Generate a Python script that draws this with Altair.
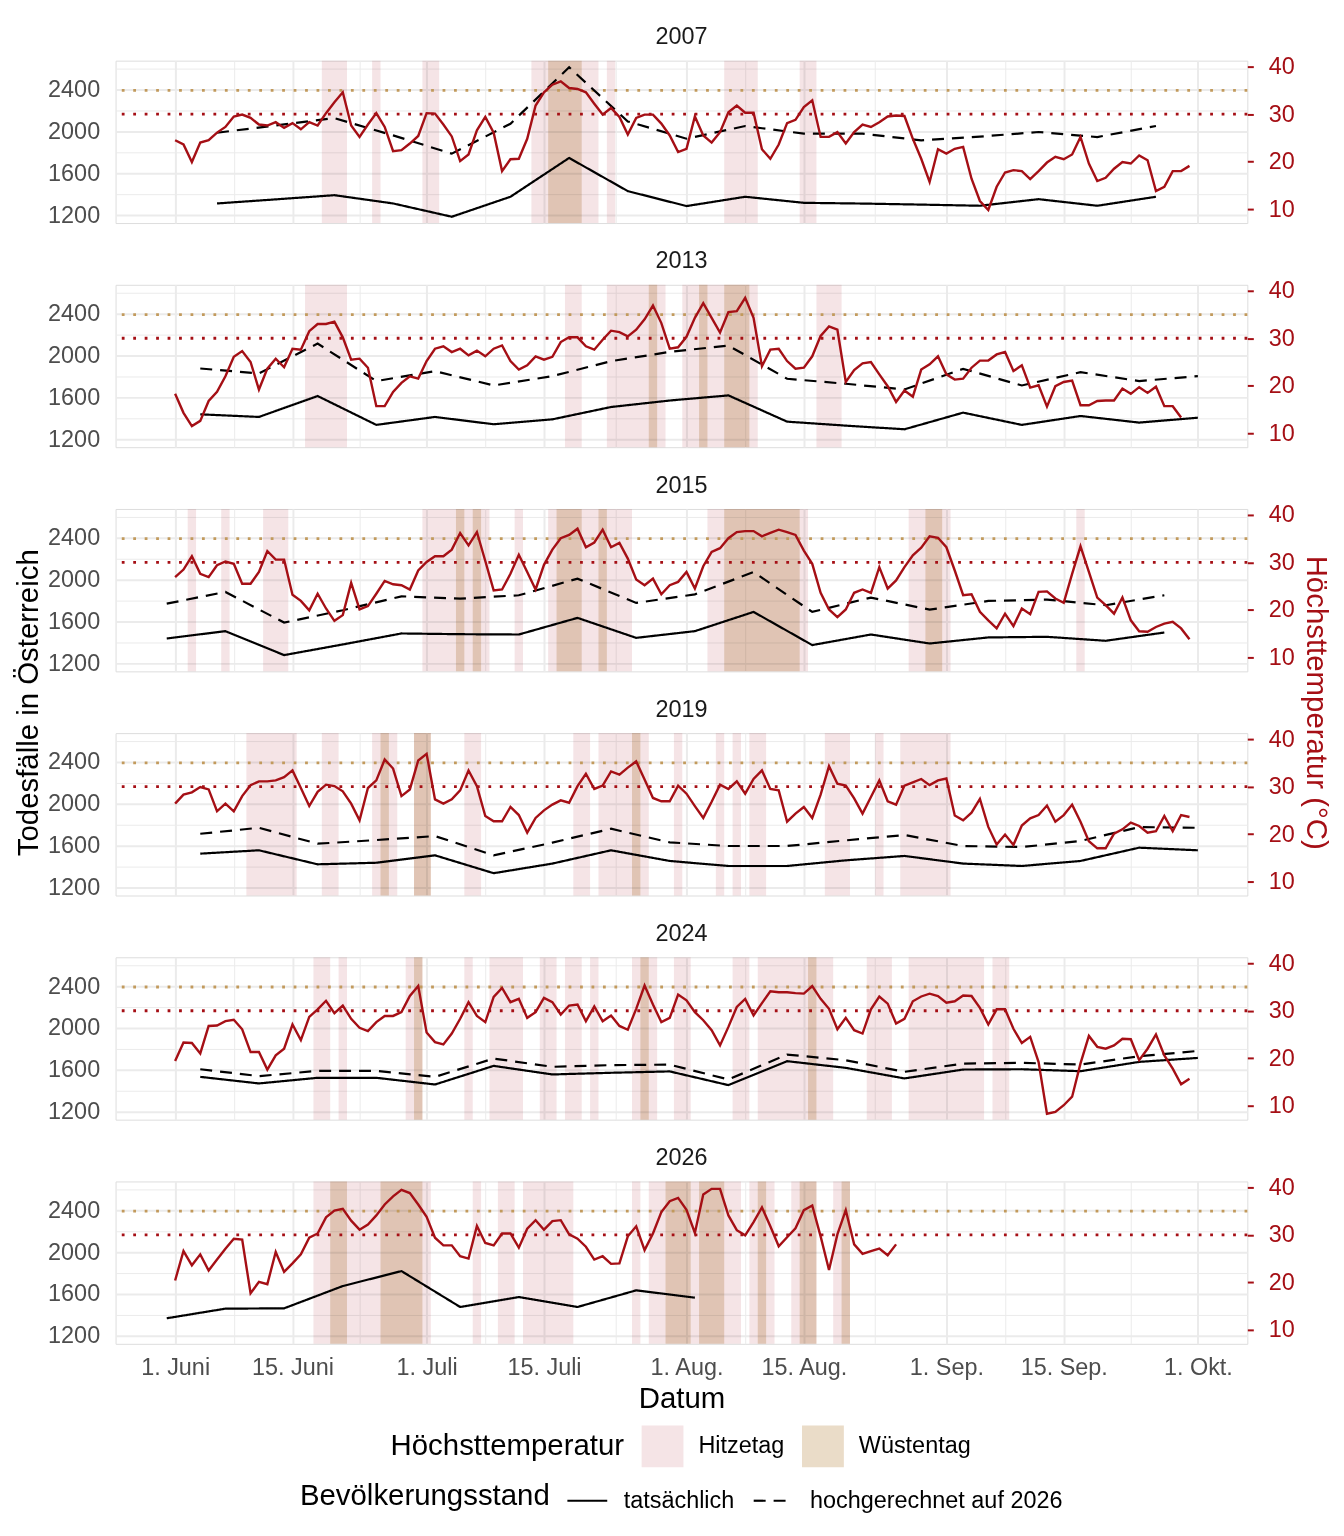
import json
import altair as alt
import pandas as pd

# ---------------- data ----------------
years = [2007, 2013, 2015, 2019, 2024, 2026]

# daily maximum temperature, day 0 = 1 June
temp_2007 = [24.5, 23.6, 19.9, 24.0, 24.5, 26.1, 27.3, 29.5, 29.9, 29.2,
             27.8, 27.6, 28.3, 27.1, 28.1, 26.8, 28.3, 27.6, 30.2, 32.5,
             34.6, 27.6, 25.2, 27.8, 30.2, 27.3, 22.2, 22.4, 23.8, 25.4,
             30.2, 30.1, 27.8, 25.3, 20.1, 21.5, 26.6, 29.4, 26.1, 18.0,
             20.5, 20.6, 24.8, 31.8, 34.6, 36.2, 36.9, 35.5, 35.3, 34.6,
             32.2, 29.9, 31.3, 29.4, 25.7, 29.2, 29.9, 29.9, 28.0, 25.5,
             22.0, 22.7, 29.5, 25.5, 24.0, 26.2, 30.4, 31.8, 30.3, 30.3,
             22.6, 20.6, 23.6, 28.1, 28.8, 31.5, 32.9, 25.2, 25.2, 26.2,
             23.8, 26.2, 27.8, 27.3, 28.3, 29.5, 29.7, 29.6, 24.8, 20.6,
             15.7, 22.6, 21.7, 22.7, 23.1, 16.4, 11.7, 9.8, 14.7, 17.7,
             18.2, 18.0, 16.3, 18.0, 19.8, 21.0, 20.5, 21.5, 25.2, 19.6,
             15.9, 16.6, 18.5, 19.9, 19.6, 21.3, 20.3, 13.8, 14.7, 18.0,
             18.0, 19.1]
temp_2013 = [18.3, 14.3, 11.5, 12.6, 16.8, 18.7, 22.0, 26.1, 27.3, 25.0,
             19.2, 23.6, 25.7, 23.9, 27.8, 27.6, 31.5, 33.0, 33.0, 33.5,
             30.2, 25.5, 25.7, 23.8, 15.7, 15.7, 18.7, 20.6, 22.0, 21.5,
             25.2, 27.8, 28.3, 27.1, 27.8, 26.4, 27.4, 26.2, 27.8, 28.5,
             25.2, 23.4, 24.3, 26.2, 25.5, 26.1, 29.2, 30.2, 30.2, 28.3,
             27.6, 29.7, 31.6, 31.3, 30.4, 31.8, 34.0, 36.9, 33.2, 27.8,
             28.1, 30.3, 34.3, 37.4, 34.3, 31.2, 35.5, 35.7, 38.5, 34.3,
             24.1, 27.6, 27.8, 25.2, 23.6, 23.8, 26.2, 30.5, 32.5, 31.8,
             20.8, 23.3, 24.7, 25.0, 22.4, 19.9, 16.6, 19.0, 17.7, 23.4,
             24.5, 26.2, 22.4, 21.3, 21.5, 23.8, 25.3, 25.3, 26.6, 27.1,
             23.1, 24.3, 19.6, 20.1, 15.6, 19.9, 20.8, 21.1, 15.9, 15.9,
             16.8, 16.9, 16.9, 19.4, 18.3, 19.7, 18.5, 19.8, 15.7, 15.7,
             13.3]
temp_2015 = [26.9, 28.5, 31.3, 27.6, 26.9, 29.4, 30.2, 29.7, 25.5, 25.5,
             28.0, 32.4, 30.6, 30.6, 23.2, 21.9, 19.9, 23.4, 20.3, 17.7,
             18.9, 25.7, 20.1, 20.8, 23.4, 26.1, 25.4, 25.2, 24.3, 28.3,
             30.1, 31.3, 31.3, 32.7, 36.2, 33.6, 36.4, 30.3, 24.1, 24.3,
             27.6, 31.6, 28.0, 24.3, 29.5, 32.7, 35.1, 35.8, 37.1, 33.2,
             34.2, 36.9, 33.2, 34.1, 30.8, 26.4, 25.2, 26.6, 23.3, 25.2,
             25.9, 28.0, 24.5, 29.2, 32.2, 33.0, 35.1, 36.4, 36.6, 36.6,
             35.5, 36.2, 36.9, 36.4, 35.8, 32.5, 29.7, 23.6, 20.1, 18.5,
             20.1, 23.6, 24.3, 23.6, 29.0, 24.5, 26.2, 29.0, 31.5, 33.1,
             35.5, 35.2, 33.2, 28.3, 23.1, 23.3, 19.6, 17.8, 16.1, 19.2,
             16.6, 20.3, 19.1, 23.8, 23.9, 22.4, 21.5, 27.6, 33.4, 28.0,
             22.6, 21.0, 19.2, 22.6, 17.8, 15.5, 15.4, 16.4, 17.1, 17.5,
             16.1, 13.8]
temp_2019 = [26.4, 28.3, 28.8, 29.9, 29.4, 24.8, 26.4, 24.8, 28.0, 30.3,
             31.1, 31.1, 31.3, 32.0, 33.4, 29.7, 25.9, 28.9, 30.4, 30.1,
             29.0, 26.4, 22.9, 29.7, 31.3, 35.7, 33.8, 28.0, 29.4, 35.5,
             36.9, 27.3, 26.4, 27.3, 29.2, 33.4, 30.1, 23.8, 22.7, 22.7,
             25.7, 24.0, 20.3, 23.4, 25.0, 26.2, 27.1, 26.6, 30.1, 32.7,
             29.5, 30.2, 33.2, 32.5, 34.0, 35.3, 31.5, 27.6, 26.9, 26.9,
             30.2, 28.5, 25.9, 23.4, 26.8, 30.4, 29.5, 31.1, 28.5, 31.6,
             33.4, 29.5, 29.2, 22.6, 24.3, 25.7, 23.4, 28.3, 34.3, 30.6,
             30.2, 27.5, 24.3, 27.8, 31.3, 26.9, 26.2, 30.2, 30.9, 31.6,
             30.3, 31.3, 31.7, 23.9, 22.9, 24.5, 27.4, 21.5, 17.8, 19.9,
             17.7, 21.8, 23.3, 24.0, 26.0, 22.6, 24.0, 26.2, 22.6, 18.5,
             17.0, 17.0, 20.1, 21.0, 22.4, 21.7, 20.3, 20.6, 23.8, 20.6,
             24.0, 23.6]
temp_2024 = [19.4, 23.3, 23.2, 21.0, 26.8, 26.9, 27.8, 28.1, 26.1, 21.3,
             21.3, 17.6, 20.6, 22.0, 27.1, 23.8, 28.7, 30.3, 32.1, 29.5,
             31.1, 28.3, 26.4, 25.7, 27.6, 28.9, 28.9, 29.7, 33.1, 35.2,
             25.4, 23.4, 22.9, 25.2, 28.3, 31.8, 28.9, 27.6, 32.9, 34.8,
             31.8, 32.5, 28.5, 29.7, 32.7, 31.8, 29.2, 31.1, 31.3, 27.8,
             30.9, 27.8, 29.0, 26.8, 26.0, 30.4, 35.3, 31.3, 27.6, 28.5,
             33.4, 32.2, 29.7, 28.0, 25.9, 22.7, 26.6, 30.8, 32.5, 29.0,
             31.6, 34.1, 33.9, 33.9, 33.7, 33.6, 35.2, 32.5, 30.4, 26.1,
             28.5, 25.9, 25.2, 30.3, 33.0, 31.5, 27.3, 28.3, 32.0, 33.0,
             33.6, 33.1, 31.7, 32.0, 33.2, 33.1, 30.6, 27.1, 30.3, 30.3,
             26.2, 23.2, 24.5, 19.2, 8.3, 8.7, 10.1, 11.9, 18.9, 24.7,
             22.4, 22.0, 22.7, 24.1, 24.0, 19.6, 22.0, 25.0, 20.6, 17.8,
             14.5, 15.7]
temp_2026 = [20.4, 26.6, 23.6, 25.9, 22.5, 24.8, 27.1, 29.2, 29.0, 17.7,
             20.1, 19.6, 26.4, 22.2, 24.0, 25.9, 29.4, 30.3, 33.7, 35.1,
             35.5, 33.0, 31.1, 32.2, 34.1, 36.4, 38.1, 39.5, 38.8, 36.4,
             33.8, 29.4, 27.8, 27.8, 25.5, 25.0, 31.9, 28.3, 27.8, 30.3,
             30.3, 27.3, 31.3, 33.1, 31.1, 32.9, 33.1, 30.1, 29.2, 27.5,
             24.8, 25.5, 23.9, 24.0, 29.7, 31.8, 26.8, 30.3, 34.8, 37.1,
             37.8, 35.3, 30.4, 38.5, 39.7, 39.7, 34.1, 31.0, 29.9, 32.7,
             35.8, 31.8, 27.6, 29.5, 31.4, 35.2, 36.2, 29.7, 22.6, 30.1,
             35.2, 28.0, 26.0, 26.6, 27.1, 25.7, 28.0]

# weekly deaths: first day of the weekly series (offset from 1 June), then one value per week
week_start_2007 = 5
actual_2007 = [1311, 1350, 1390, 1311, 1184, 1375, 1746, 1429, 1286, 1375, 1317, 1310, 1300, 1289, 1352, 1289, 1375]
projected_2007 = [1987, 2057, 2127, 1962, 1787, 2073, 2613, 2095, 1930, 2051, 1978, 1978, 1914, 1950, 1994, 1946, 2051]
week_start_2013 = 3
actual_2013 = [1438, 1413, 1613, 1337, 1413, 1343, 1390, 1508, 1570, 1619, 1368, 1330, 1295, 1454, 1337, 1422, 1359, 1406]
projected_2013 = [1876, 1829, 2114, 1756, 1851, 1714, 1803, 1946, 2035, 2095, 1778, 1730, 1676, 1873, 1714, 1841, 1756, 1803]
week_start_2015 = -1
actual_2015 = [1438, 1508, 1279, 1381, 1486, 1479, 1476, 1635, 1444, 1508, 1692, 1375, 1476, 1390, 1448, 1454, 1416, 1495]
projected_2015 = [1771, 1883, 1590, 1708, 1841, 1819, 1851, 2010, 1778, 1860, 2073, 1692, 1829, 1714, 1797, 1810, 1756, 1851]
week_start_2019 = 3
actual_2019 = [1524, 1556, 1422, 1437, 1508, 1337, 1429, 1556, 1454, 1406, 1406, 1460, 1502, 1429, 1406, 1454, 1581, 1556]
projected_2019 = [1714, 1771, 1619, 1654, 1692, 1508, 1629, 1762, 1632, 1597, 1597, 1651, 1702, 1597, 1587, 1645, 1778, 1771]
week_start_2024 = 3
actual_2024 = [1533, 1470, 1524, 1524, 1460, 1638, 1556, 1572, 1585, 1454, 1683, 1619, 1518, 1603, 1606, 1587, 1676, 1714]
projected_2024 = [1606, 1540, 1590, 1590, 1533, 1708, 1629, 1645, 1650, 1508, 1746, 1692, 1581, 1660, 1667, 1651, 1730, 1781]
week_start_2026 = -1
actual_2026 = [1368, 1460, 1463, 1676, 1819, 1476, 1571, 1476, 1635, 1565]
projected_2026 = []

series_names = ["tatsächlich", "hochgerechnet auf 2026"]
heat_names = ["Hitzetag", "Wüstentag"]
heat_thresholds = [30, 35]

tick_days = [0, 14, 30, 44, 61, 75, 92, 106, 122]
tick_labels = ["1. Juni", "15. Juni", "1. Juli", "15. Juli", "1. Aug.", "15. Aug.",
               "1. Sep.", "15. Sep.", "1. Okt."]
minor_days = [7, 22, 37, 52.5, 68, 83.5, 99, 114]
death_ticks = [1200, 1400, 1600, 1800, 2000, 2200, 2400, 2600]
temp_ticks = [10, 20, 30, 40]

temps = {2007: temp_2007, 2013: temp_2013, 2015: temp_2015,
         2019: temp_2019, 2024: temp_2024, 2026: temp_2026}
weeks = {2007: (week_start_2007, actual_2007, projected_2007),
         2013: (week_start_2013, actual_2013, projected_2013),
         2015: (week_start_2015, actual_2015, projected_2015),
         2019: (week_start_2019, actual_2019, projected_2019),
         2024: (week_start_2024, actual_2024, projected_2024),
         2026: (week_start_2026, actual_2026, projected_2026)}

# ---------------- styling ----------------
W, H = 1136, 163
XDOM = [-7.1, 127.9]
DDOM = [1123.8, 2676.2]
TDOM = [7.06, 41.26]
RED = "#A50F15"
GOLD = "#C29A5C"
GRID = "#EBEBEB"
HEAT_COLORS = ["#F5E4E6", "#EADCC8"]
FONT = "Liberation Sans"
SMALL = 23.5
BIG = 29.5


def temp_frame(t):
    return pd.DataFrame({"day": list(range(len(t))), "temp": t})


def deaths_frame(start, actual, projected):
    rows = []
    for name, vals in zip(series_names, [actual, projected]):
        for i, v in enumerate(vals):
            rows.append({"day": start + 7 * i, "deaths": v, "series": name})
    return pd.DataFrame(rows)


def shade_frame(t):
    rows = []
    for name, thr in zip(heat_names, heat_thresholds):
        first = None
        for d, v in enumerate(list(t) + [None]):
            hot = v is not None and v >= thr
            if hot and first is None:
                first = d
            elif not hot and first is not None:
                rows.append({"start": first - 0.5, "end": d - 0.5, "kind": name})
                first = None
    return pd.DataFrame(rows, columns=["start", "end", "kind"])


label_expr = "''"
for d, lab in reversed(list(zip(tick_days, tick_labels))):
    label_expr = f"datum.value == {d} ? '{lab}' : {label_expr}"
major_test = "indexof(%s, datum.value) >= 0" % json.dumps(tick_days)


def x_axis(bottom):
    common = dict(values=sorted(tick_days + minor_days), grid=True, gridColor=GRID,
                  gridWidth={"condition": {"test": major_test, "value": 2}, "value": 1},
                  domain=False, ticks=False, tickSize=0, labelOverlap=False, labelFlush=False)
    if bottom:
        return alt.Axis(title="Datum", labelExpr=label_expr, labelFontSize=SMALL,
                        labelColor="#4D4D4D", labelPadding=12, labelBaseline="top",
                        titleFontSize=BIG, titleFontWeight="normal", titleColor="black",
                        titlePadding=5, **common)
    return alt.Axis(title=None, labels=False, **common)


def left_axis(mid):
    kw = dict(values=death_ticks, format="d",
              labelExpr="datum.value % 400 == 0 ? datum.label : ''",
              grid=True, gridColor=GRID,
              gridWidth={"condition": {"test": "datum.value % 400 == 0", "value": 2}, "value": 1},
              domain=False, ticks=False, tickSize=0, labelPadding=16, labelFontSize=SMALL,
              labelColor="#4D4D4D", labelOverlap=False, orient="left")
    if mid:
        kw.update(title="Todesfälle in Österreich", titleX=-87, titleY=194, titleAngle=270,
                  titleAlign="center", titleBaseline="middle", titleFontSize=BIG,
                  titleFontWeight="normal", titleColor="black", titleLimit=600)
    else:
        kw.update(title=None)
    return alt.Axis(**kw)


def right_axis(mid):
    kw = dict(values=temp_ticks, format="d", grid=False, domain=False, ticks=True,
              tickColor=RED, tickWidth=2, tickSize=6, labelPadding=15, labelFontSize=SMALL,
              labelColor=RED, labelOverlap=False, orient="right")
    if mid:
        kw.update(title="Höchsttemperatur (°C)", titleX=68, titleY=194, titleAngle=90,
                  titleAlign="center", titleBaseline="middle", titleFontSize=BIG,
                  titleFontWeight="normal", titleColor=RED, titleLimit=600)
    else:
        kw.update(title=None)
    return alt.Axis(**kw)


heat_legend = alt.Legend(title="Höchsttemperatur", orient="none", legendX=276, legendY=1370,
                         direction="horizontal", titleOrient="left", titleFontSize=BIG,
                         titleFontWeight="normal", titleColor="black", titlePadding=17,
                         titleAnchor="middle", titleBaseline="middle", titleLimit=600,
                         labelFontSize=SMALL, labelColor="black", labelOffset=15, labelLimit=600,
                         columnPadding=17, symbolType="square", symbolSize=1764,
                         symbolStrokeWidth=0, padding=0)
dash_legend = alt.Legend(title="Bevölkerungsstand", orient="none", legendX=185, legendY=1424,
                         direction="horizontal", titleOrient="left", titleFontSize=BIG,
                         titleFontWeight="normal", titleColor="black", titlePadding=16,
                         titleAnchor="middle", titleBaseline="middle", titleLimit=600,
                         labelFontSize=SMALL, labelColor="black", labelOffset=15, labelLimit=600,
                         columnPadding=14, symbolType="stroke", symbolSize=1600,
                         symbolStrokeWidth=2.2, symbolStrokeColor="black", padding=0)


def panel(i, year):
    bottom = i == len(years) - 1
    mid = i == 2
    xa = x_axis(bottom)
    xs = alt.Scale(domain=XDOM, nice=False, zero=False)
    ds = alt.Scale(domain=DDOM, nice=False, zero=False)
    ts = alt.Scale(domain=TDOM, nice=False, zero=False)
    t = temps[year]
    start, actual, projected = weeks[year]

    shade = alt.Chart(shade_frame(t)).mark_rect(blend="multiply").encode(
        x=alt.X("start:Q", scale=xs, axis=xa),
        x2="end:Q",
        y=alt.value(0), y2=alt.value(H),
        color=alt.Color("kind:N", scale=alt.Scale(domain=heat_names, range=HEAT_COLORS),
                        legend=heat_legend),
    )
    rule30 = alt.Chart(pd.DataFrame({"temp": [heat_thresholds[0]]})).mark_rule(
        color=RED, strokeWidth=2.8, strokeDash=[2.8, 8.7]).encode(
        y=alt.Y("temp:Q", scale=ts, axis=None))
    rule35 = alt.Chart(pd.DataFrame({"temp": [heat_thresholds[1]]})).mark_rule(
        color=GOLD, strokeWidth=2.8, strokeDash=[2.8, 8.7]).encode(
        y=alt.Y("temp:Q", scale=ts, axis=None))
    deaths = alt.Chart(deaths_frame(start, actual, projected)).mark_line(
        color="black", strokeWidth=2.2).encode(
        x=alt.X("day:Q", scale=xs, axis=xa),
        y=alt.Y("deaths:Q", scale=ds, axis=left_axis(mid)),
        strokeDash=alt.StrokeDash("series:N",
                                  scale=alt.Scale(domain=series_names, range=[[1, 0], [12, 8]]),
                                  legend=dash_legend),
        order="day:Q",
    )
    tline = alt.Chart(temp_frame(t)).mark_line(color=RED, strokeWidth=2.4).encode(
        x=alt.X("day:Q", scale=xs, axis=xa),
        y=alt.Y("temp:Q", scale=ts, axis=right_axis(mid)),
    )
    return alt.layer(shade, rule30, rule35, deaths, tline).resolve_scale(
        y="independent").properties(
        width=W, height=H,
        title=alt.TitleParams(text=str(year), fontSize=SMALL, fontWeight="normal",
                              color="#1A1A1A", anchor="middle", frame="group", offset=6))


chart = alt.vconcat(*[panel(i, y) for i, y in enumerate(years)], spacing=62,
                    bounds="flush",
                    padding={"left": 5, "top": 14, "right": 5, "bottom": 5}
                    ).configure_view(stroke=None).configure(font=FONT, background="white")

chart.save("out.html", embed_options={"renderer": "svg", "actions": False})
